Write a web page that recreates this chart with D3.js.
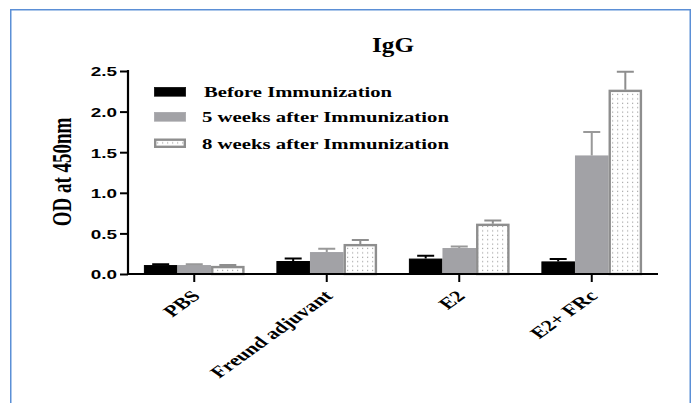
<!DOCTYPE html>
<html>
<head>
<meta charset="utf-8">
<script src="https://cdn.jsdelivr.net/npm/d3@7"></script>
<style>
  html, body { margin: 0; padding: 0; background: #fff; }
  svg { display: block; }
</style>
</head>
<body>
<svg id="chart" width="695" height="403"></svg>
<script>
// IgG ELISA readings (OD at 450 nm) per immunization group
const categories = ["PBS", "Freund adjuvant", "E2", "E2+ FRc"];
const seriesNames = ["Before Immunization", "5 weeks after Immunization", "8 weeks after Immunization"];
const beforeValues = [0.11, 0.16, 0.19, 0.155];
const beforeErrors = [0.01, 0.03, 0.035, 0.03];
const week5Values = [0.11, 0.27, 0.32, 1.46];
const week5Errors = [0.01, 0.04, 0.02, 0.29];
const week8Values = [0.10, 0.37, 0.62, 2.27];
const week8Errors = [0.01, 0.05, 0.04, 0.22];
const yTicks = [0.0, 0.5, 1.0, 1.5, 2.0, 2.5];

const series = [
  { name: seriesNames[0], values: beforeValues, errors: beforeErrors, fill: "#000", stroke: "#000", err: "#000" },
  { name: seriesNames[1], values: week5Values, errors: week5Errors, fill: "#a2a2a6", stroke: "#a2a2a6", err: "#999" },
  { name: seriesNames[2], values: week8Values, errors: week8Errors, fill: "url(#dots)", stroke: "#8e8e8e", err: "#8e8e8e" }
];

const svg = d3.select("#chart");
const SX = 1.4; // horizontal widening applied to the lettering

// dotted fill
const defs = svg.append("defs");
const pat = defs.append("pattern").attr("id", "dots")
  .attr("patternUnits", "userSpaceOnUse").attr("width", 5).attr("height", 4.4);
pat.append("rect").attr("width", 5).attr("height", 4.4).attr("fill", "#fff");
pat.append("rect").attr("x", 2).attr("y", 1.5).attr("width", 1.2).attr("height", 1.2).attr("fill", "#a8a8a8");

// frame
svg.append("path").attr("d", "M10.75,410 V9.75 H690.25 V410")
  .attr("fill", "none").attr("stroke", "#5b8fd6").attr("stroke-width", 1.5);

const plotLeft = 128, plotRight = 658, plotTop = 71, plotBottom = 274;
const x = d3.scaleBand().domain(categories).range([plotLeft, plotRight]).paddingInner(0.24).paddingOuter(0.12);
const xs = d3.scaleBand().domain(d3.range(series.length)).range([0, x.bandwidth()]);
const y = d3.scaleLinear().domain([0, 2.5]).range([plotBottom, plotTop]);

// bars
series.forEach((s, i) => {
  const g = svg.append("g");
  const sw = i === 2 ? 2.4 : 1;
  g.selectAll("rect").data(categories).join("rect")
    .attr("x", c => x(c) + xs(i) + sw / 2)
    .attr("width", xs.bandwidth() - sw)
    .attr("y", (c, k) => y(s.values[k]) + sw / 2)
    .attr("height", (c, k) => plotBottom - y(s.values[k]) - sw / 2)
    .attr("fill", s.fill).attr("stroke", s.stroke).attr("stroke-width", sw);
  // upper error bars
  const cw = 17;
  g.selectAll("path.err").data(categories).join("path").attr("class", "err")
    .attr("d", (c, k) => {
      const cx = x(c) + xs(i) + xs.bandwidth() / 2;
      const y0 = y(s.values[k]), y1 = y(s.values[k] + s.errors[k]);
      return `M${cx},${y0} V${y1} M${cx - cw / 2},${y1} H${cx + cw / 2}`;
    })
    .attr("fill", "none").attr("stroke", s.err).attr("stroke-width", 2);
});

// y axis
const yAxis = svg.append("g").attr("transform", `translate(${plotLeft},0)`)
  .call(d3.axisLeft(y).tickValues(yTicks).tickFormat(d3.format(".1f")).tickSize(8).tickPadding(3));
yAxis.select(".domain").attr("stroke", "#000").attr("stroke-width", 2.2)
  .attr("d", `M0,${plotTop - 1}V${plotBottom}`);
yAxis.selectAll(".tick line").attr("stroke", "#000").attr("stroke-width", 2);
yAxis.selectAll(".tick text").each(function () {
  const t = d3.select(this);
  t.attr("font-family", "'Liberation Sans', Arial, sans-serif")
    .attr("font-weight", "bold").attr("font-size", 13.5).attr("fill", "#000")
    .attr("text-anchor", "end").attr("dy", "0.36em")
    .attr("transform", `translate(-11,0) scale(${SX},1) translate(11,0)`);
});

// x axis
const xAxis = svg.append("g").attr("transform", `translate(0,${plotBottom})`)
  .call(d3.axisBottom(x).tickSize(8).tickFormat(""));
xAxis.select(".domain").attr("stroke", "#000").attr("stroke-width", 2.2)
  .attr("d", `M${plotLeft - 1},0H${plotRight}`);
xAxis.selectAll(".tick line").attr("stroke", "#000").attr("stroke-width", 2);

svg.append("g").selectAll("text").data(categories).join("text")
  .attr("transform", c => `translate(${x(c) + x.bandwidth() / 2 + 7},${plotBottom + 23}) scale(${SX},1) rotate(-45)`)
  .attr("text-anchor", "end")
  .attr("font-family", "'Liberation Serif', 'Times New Roman', serif")
  .attr("font-weight", "bold").attr("font-size", 16).attr("fill", "#000")
  .text(c => c);

// y title
svg.append("text")
  .attr("transform", `translate(71,172) scale(${SX},1) rotate(-90)`)
  .attr("text-anchor", "middle")
  .attr("font-family", "'Liberation Serif', 'Times New Roman', serif")
  .attr("font-weight", "bold").attr("font-size", 19).attr("fill", "#000")
  .text("OD at 450nm");

// title
svg.append("text").attr("x", 372).attr("y", 52)
  .attr("textLength", 42).attr("lengthAdjust", "spacingAndGlyphs")
  .attr("font-family", "'Liberation Serif', 'Times New Roman', serif")
  .attr("font-weight", "bold").attr("font-size", 21).attr("fill", "#000")
  .text("IgG");

// legend
const legend = svg.append("g");
const legendRows = [
  { y: 87, w: 188 }, { y: 112, w: 247 }, { y: 138.5, w: 247 }
];
series.forEach((s, i) => {
  const r = legendRows[i];
  const sw = i === 2 ? 2.4 : 0.5;
  legend.append("rect")
    .attr("x", 154 + sw / 2).attr("y", r.y + sw / 2)
    .attr("width", 32 - sw).attr("height", 9.5 - sw)
    .attr("fill", s.fill).attr("stroke", s.stroke).attr("stroke-width", sw);
  legend.append("text")
    .attr("x", i === 0 ? 204 : 202).attr("y", r.y + 10)
    .attr("textLength", r.w).attr("lengthAdjust", "spacingAndGlyphs")
    .attr("font-family", "'Liberation Serif', 'Times New Roman', serif")
    .attr("font-weight", "bold").attr("font-size", 15).attr("fill", "#000")
    .text(s.name);
});
</script>
</body>
</html>
